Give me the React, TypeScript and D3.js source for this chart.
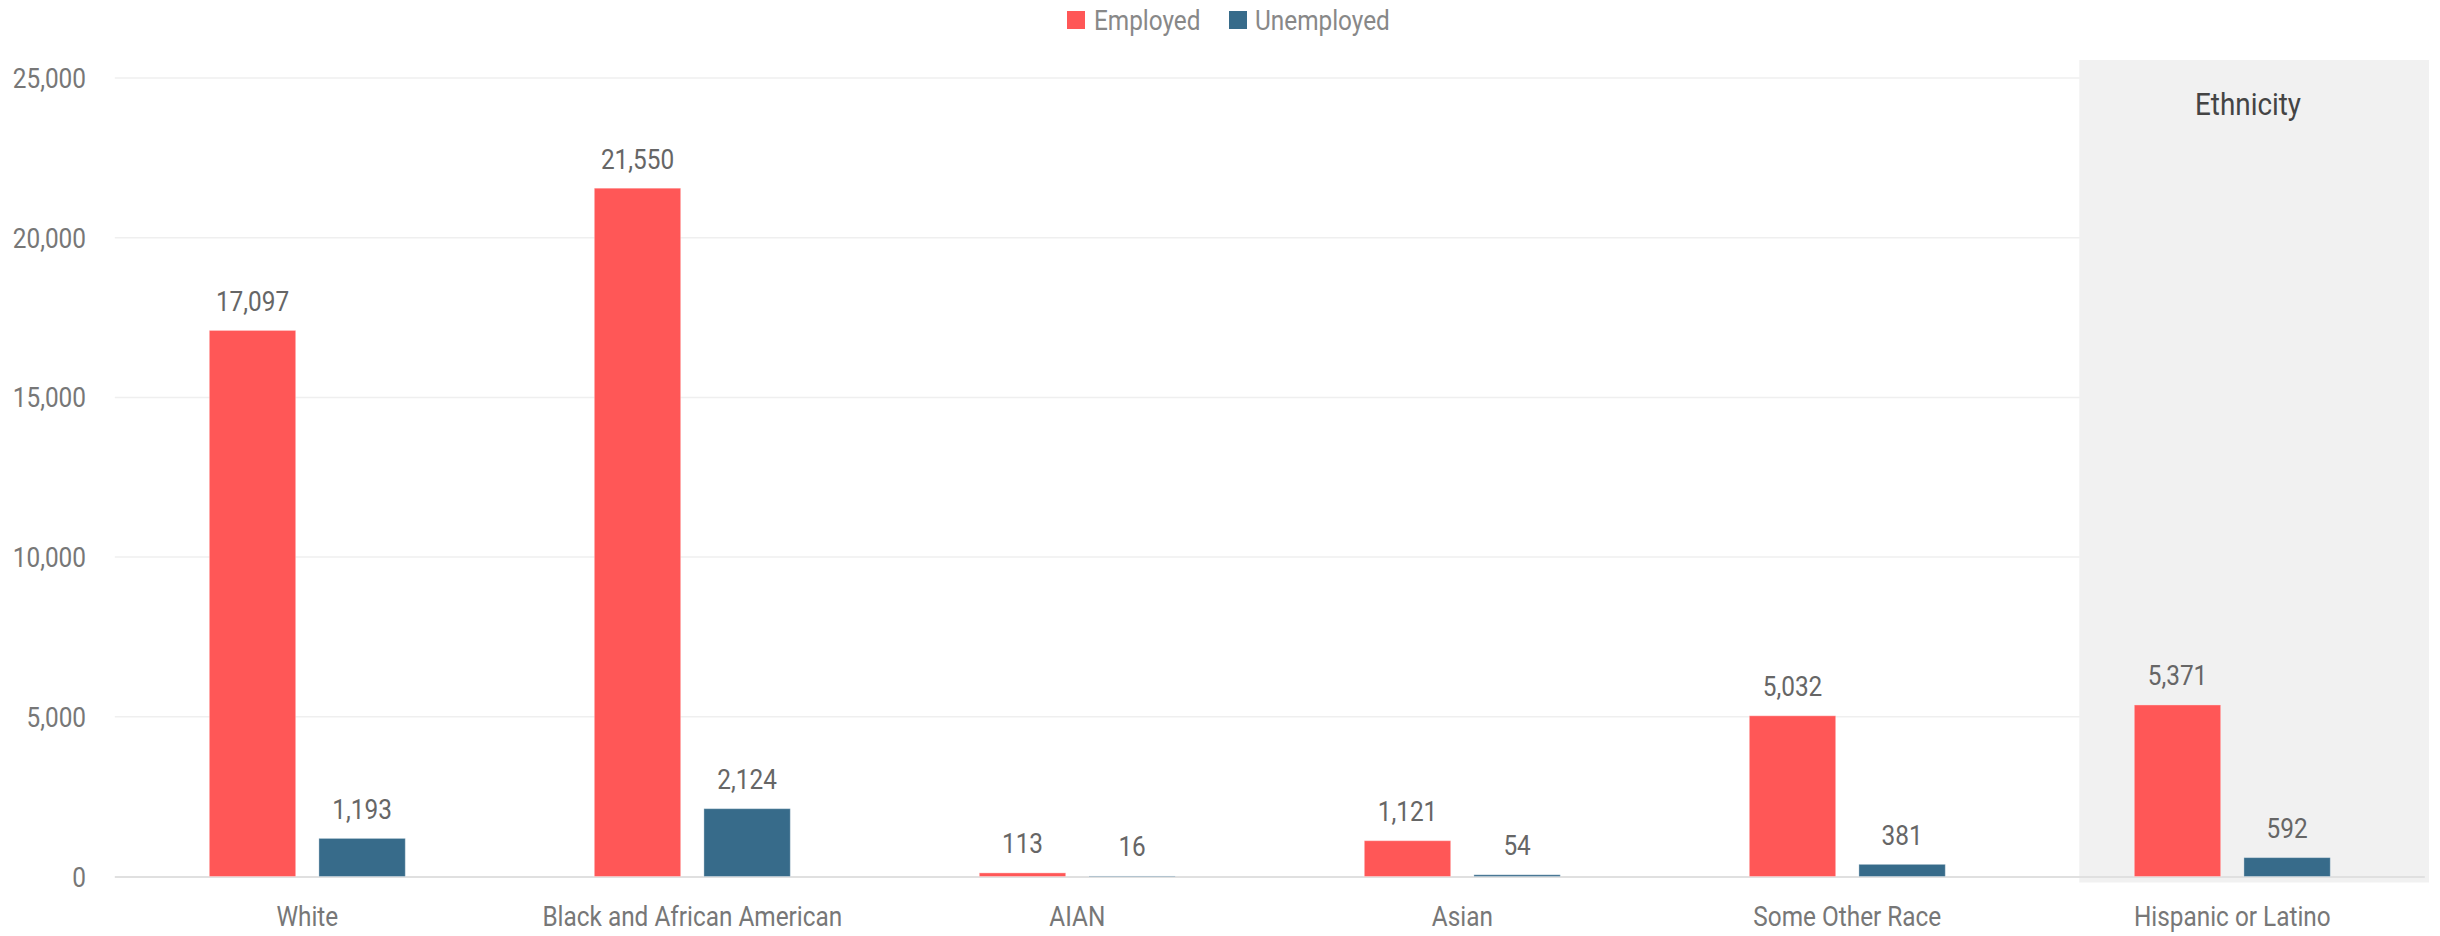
import React from "react";
import * as d3 from "d3";

const categories = ["White", "Black and African American", "AIAN", "Asian", "Some Other Race", "Hispanic or Latino"];
const seriesNames = ["Employed", "Unemployed"];
const employed = [17097, 21550, 113, 1121, 5032, 5371];
const unemployed = [1193, 2124, 16, 54, 381, 592];
const yTicks = [0, 5000, 10000, 15000, 20000, 25000];
const colors = ["#FF5757", "#376B8A"];
const highlightLabel = "Ethnicity";

const W = 2440;
const H = 936;
const FONT = "Roboto, 'Noto Sans', sans-serif";
const SX = 0.87;

function T({ x, y, anchor = "middle", size = 28, fill = "#777", children, weight = 400 }: any) {
  return (
    <text
      transform={`translate(${x},${y}) scale(${SX},1)`}
      textAnchor={anchor}
      fontSize={size}
      fontFamily={FONT}
      fontWeight={weight}
      fill={fill}
    >
      {children}
    </text>
  );
}

export default function App() {
  const y = d3.scaleLinear().domain([0, 25000]).range([876.5, 78]);
  const x = d3.scaleBand<string>().domain(categories).range([114.8, 2424.8]).padding(0);
  const inner = d3.scaleBand<string>().domain(seriesNames).range([-98, 98]).paddingInner(0.2117);
  const fmt = d3.format(",");
  const values = [employed, unemployed];
  const boxLeft = 2079.3;
  const boxRight = 2429;
  const gridLeft = 114.8;
  const gridRight = 2424.8;

  return (
    <svg width={W} height={H} style={{ position: "absolute", left: 0, top: 0, background: "#fff" }}>
      {/* grid */}
      {yTicks.map((t) => (
        <g key={t}>
          {t !== 0 && (
            <line x1={gridLeft} x2={gridRight} y1={y(t)} y2={y(t)} stroke="#EFEFEF" strokeWidth={1.5} />
          )}
          <T x={86} y={y(t) + 10} anchor="end" fill="#777">{fmt(t)}</T>
        </g>
      ))}

      {/* highlighted region */}
      <rect x={boxLeft} y={60} width={boxRight - boxLeft} height={822.5} fill="#F1F1F1" />
      <T x={2248} y={115} size={32} fill="#444">{highlightLabel}</T>

      {/* baseline */}
      <line x1={gridLeft} x2={gridRight} y1={y(0) + 0.5} y2={y(0) + 0.5} stroke="#E0E0E0" strokeWidth={2} />

      {/* bars */}
      {categories.map((c, i) => {
        const cx = (x(c) as number) + x.bandwidth() / 2;
        return (
          <g key={c}>
            {seriesNames.map((s, si) => {
              const v = values[si][i];
              const bx = cx + (inner(s) as number);
              const bw = inner.bandwidth();
              const top = y(v);
              return (
                <g key={s}>
                  <rect x={bx} y={top} width={bw} height={y(0) - top} fill={colors[si]}
                    stroke="rgba(255,255,255,0.35)" strokeWidth={1} />
                  <T x={bx + bw / 2} y={top - 19.5} fill="#666">{fmt(v)}</T>
                </g>
              );
            })}
            <T x={cx} y={926} fill="#777">{c}</T>
          </g>
        );
      })}

      {/* legend */}
      <g>
        <rect x={1067} y={11} width={18} height={18} fill={colors[0]} />
        <T x={1094} y={30} anchor="start" fill="#888">{seriesNames[0]}</T>
        <rect x={1229} y={11} width={18} height={18} fill={colors[1]} />
        <T x={1255} y={30} anchor="start" fill="#888">{seriesNames[1]}</T>
      </g>
    </svg>
  );
}
